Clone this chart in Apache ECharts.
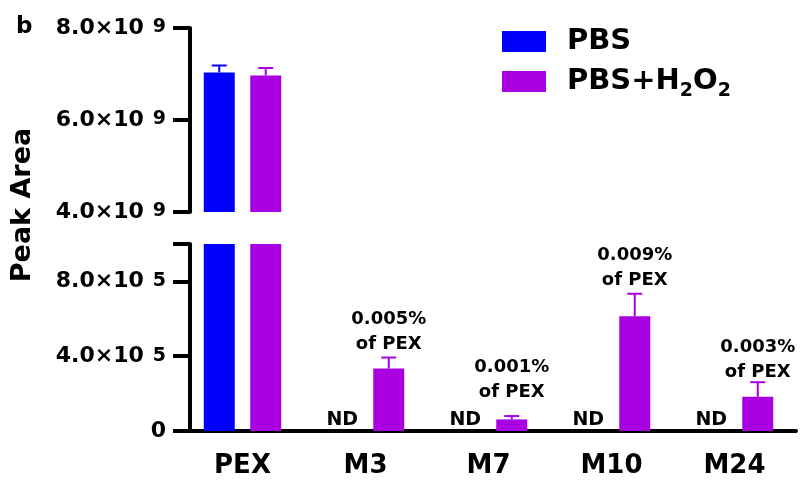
<!DOCTYPE html>
<html><head><meta charset="utf-8">
<script src="https://cdn.jsdelivr.net/npm/echarts@6/dist/echarts.min.js"></script>
<style>html,body{margin:0;padding:0;background:#fff}#c{width:802px;height:482px}</style>
</head><body><div id="c"></div>
<script>
// ---- data ----
const categories = ['PEX', 'M3', 'M7', 'M10', 'M24'];
const pbsMean  = [7.035e9, 0, 0, 0, 0];
const pbsErr   = [0.15e9, 0, 0, 0, 0];
const pbsNote  = ['', 'ND', 'ND', 'ND', 'ND'];
const h2o2Mean = [6.97e9, 3.34e5, 0.62e5, 6.13e5, 1.83e5];
const h2o2Err  = [0.16e9, 0.59e5, 0.18e5, 1.21e5, 0.78e5];
const h2o2Note = ['', '0.005%\nof PEX', '0.001%\nof PEX', '0.009%\nof PEX', '0.003%\nof PEX'];
const upperTicks = [4e9, 6e9, 8e9];
const lowerTicks = [0, 4e5, 8e5];
const lowerMax = 1e6;
const seriesNames = ['PBS', 'PBS+H2O2'];

// ---- style / layout ----
const F = 'DejaVu Sans';
const BLUE = '#0000FF', PURPLE = '#A900E2';
const BAR_W = 31, BAR_GAP = 15.5, CAP = 15;
const noteLift = [0, 0, 10, 0, -4];   // extra lift (px) of annotation text above the error cap

function tickFmt(ticks) {
  return function (v) {
    if (!ticks.some(t => Math.abs(t - v) < 1)) return '';
    if (v === 0) return '{b|0}';
    const e = Math.floor(Math.log10(v) + 1e-9);
    const m = v / Math.pow(10, e);
    return '{b|' + m.toFixed(1) + '×10}{s|' + e + '}';
  };
}
const tickRich = {
  b: { fontFamily: F, fontWeight: 'bold', fontSize: 22, color: '#000' },
  s: { fontFamily: F, fontWeight: 'bold', fontSize: 19, color: '#000', padding: [0, 0, 1, 9] }
};

function errRender(sign, color, notes) {
  return function (params, api) {
    const i = api.value(0), m = api.value(1), e = api.value(2);
    const off = sign * (BAR_W + BAR_GAP) / 2;
    const p0 = api.coord([i, m]);
    const p1 = api.coord([i, m + e]);
    const x = p0[0] + off;
    const children = [];
    if (e > 0) {
      children.push({ type: 'line', shape: { x1: x, y1: p0[1], x2: x, y2: p1[1] }, style: { stroke: color, lineWidth: 2 } });
      children.push({ type: 'line', shape: { x1: x - CAP / 2, y1: p1[1], x2: x + CAP / 2, y2: p1[1] }, style: { stroke: color, lineWidth: 2 } });
    }
    const note = notes ? notes[i] : '';
    if (note) {
      children.push({ type: 'text', x: x, y: p1[1] - 1 - noteLift[i], style: {
        text: note, align: 'center', verticalAlign: 'bottom', fontFamily: F, fontWeight: 'bold',
        fontSize: 18, lineHeight: 25, fill: '#000' } });
    }
    return { type: 'group', children: children };
  };
}

const upperMin = upperTicks[0];
const chart = echarts.init(document.getElementById('c'));
const xCommon = { type: 'category', data: categories };
const option = {
  animation: false,
  backgroundColor: '#fff',
  grid: [
    { left: 181, width: 615, top: 28, height: 184 },
    { left: 181, width: 615, top: 244, height: 187 }
  ],
  legend: {
    data: seriesNames, orient: 'vertical', left: 497, top: 22,
    itemWidth: 44, itemHeight: 21, itemGap: 6, icon: 'rect',
    formatter: n => n === 'PBS' ? '{a|PBS}' : '{a|PBS+H}{s|2}{a|O}{s|2}',
    textStyle: {
      padding: [0, 0, 0, 16],
      rich: {
        a: { fontFamily: F, fontWeight: 'bold', fontSize: 29, lineHeight: 21, color: '#000' },
        s: { fontFamily: F, fontWeight: 'bold', fontSize: 19, lineHeight: 21, color: '#000', padding: [20, 0, 0, 0] }
      }
    }
  },
  xAxis: [
    Object.assign({ gridIndex: 0, show: false }, xCommon),
    Object.assign({ gridIndex: 1,
      axisLine: { lineStyle: { color: '#000', width: 4 } },
      axisTick: { alignWithLabel: true, length: 16, lineStyle: { color: '#000', width: 4 } },
      axisLabel: { margin: 22, color: '#000', fontFamily: F, fontWeight: 'bold', fontSize: 26 }
    }, xCommon)
  ],
  yAxis: [
    { type: 'value', gridIndex: 0, min: upperTicks[0], max: upperTicks[2], interval: upperTicks[1] - upperTicks[0],
      offset: -9, splitLine: { show: false },
      axisLine: { show: true, lineStyle: { color: '#000', width: 4 } },
      axisTick: { show: true, length: 17, lineStyle: { color: '#000', width: 4 } },
      axisLabel: { margin: 24, formatter: tickFmt(upperTicks), rich: tickRich } },
    { type: 'value', gridIndex: 1, min: 0, max: lowerMax, interval: lowerTicks[1] - lowerTicks[0],
      offset: -9, splitLine: { show: false },
      axisLine: { show: true, lineStyle: { color: '#000', width: 4 } },
      axisTick: { show: true, length: 17, lineStyle: { color: '#000', width: 4 } },
      axisLabel: { margin: 24, formatter: tickFmt(lowerTicks), rich: tickRich } }
  ],
  series: [
    { type: 'bar', name: 'PBS', xAxisIndex: 0, yAxisIndex: 0, barWidth: BAR_W, barGap: '50%', clip: true,
      itemStyle: { color: BLUE }, data: pbsMean.map(v => v >= upperMin ? v : '-') },
    { type: 'bar', name: 'PBS+H2O2', xAxisIndex: 0, yAxisIndex: 0, barWidth: BAR_W, barGap: '50%', clip: true,
      itemStyle: { color: PURPLE }, data: h2o2Mean.map(v => v >= upperMin ? v : '-') },
    { type: 'bar', name: 'PBS', xAxisIndex: 1, yAxisIndex: 1, barWidth: BAR_W, barGap: '50%', clip: true,
      itemStyle: { color: BLUE }, data: pbsMean,
      label: { show: true, position: 'top', distance: 1, formatter: p => pbsNote[p.dataIndex],
        fontFamily: F, fontWeight: 'bold', fontSize: 19, color: '#000' } },
    { type: 'bar', name: 'PBS+H2O2', xAxisIndex: 1, yAxisIndex: 1, barWidth: BAR_W, barGap: '50%', clip: true,
      itemStyle: { color: PURPLE }, data: h2o2Mean },
    { type: 'custom', name: 'errPBSup', xAxisIndex: 0, yAxisIndex: 0, renderItem: errRender(-1, BLUE, null),
      data: pbsMean.map((v, i) => v >= upperMin ? [i, v, pbsErr[i]] : null).filter(d => d), z: 3 },
    { type: 'custom', name: 'errH2up', xAxisIndex: 0, yAxisIndex: 0, renderItem: errRender(1, PURPLE, null),
      data: h2o2Mean.map((v, i) => v >= upperMin ? [i, v, h2o2Err[i]] : null).filter(d => d), z: 3 },
    { type: 'custom', name: 'errH2low', xAxisIndex: 1, yAxisIndex: 1, renderItem: errRender(1, PURPLE, h2o2Note),
      data: h2o2Mean.map((v, i) => v < upperMin ? [i, v, h2o2Err[i]] : null).filter(d => d), z: 3 }
  ],
  graphic: [
    { type: 'text', x: 16, y: 16, style: { text: 'b', fontFamily: F, fontWeight: 'bold', fontSize: 23, fill: '#000' } },
    { type: 'text', x: 23, y: 205, rotation: Math.PI / 2, style: { text: 'Peak Area', align: 'center', verticalAlign: 'middle',
      fontFamily: F, fontWeight: 'bold', fontSize: 27, fill: '#000' } }
  ]
};
chart.setOption(option);
</script>
</body></html>
